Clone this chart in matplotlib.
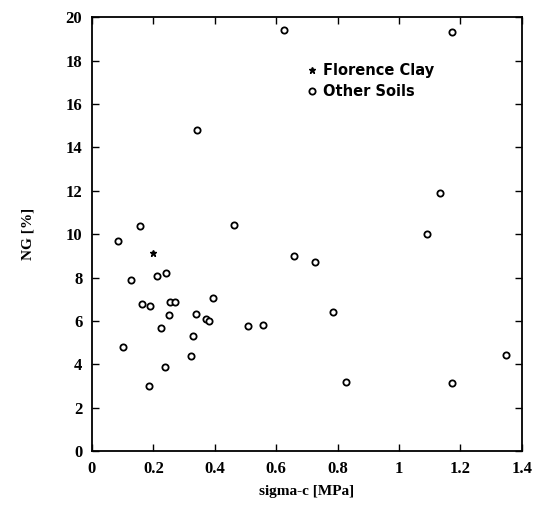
import matplotlib.pyplot as plt

# Florence Clay
fc_sigma = [0.200]
fc_ng = [9.14]

# Other soils
other_sigma = [0.086, 0.127, 0.211, 0.240, 0.162, 0.189, 0.254, 0.271, 0.393,
               0.251, 0.339, 0.370, 0.382, 0.225, 0.329, 0.102, 0.321, 0.238,
               0.187, 0.508, 0.556, 0.659, 0.725, 0.626, 0.341, 0.156, 0.463,
               1.173, 1.134, 1.090, 0.784, 0.826, 1.172, 1.349]
other_ng = [9.69, 7.88, 8.08, 8.19, 6.79, 6.67, 6.88, 6.88, 7.08,
            6.28, 6.30, 6.10, 5.99, 5.68, 5.30, 4.79, 4.39, 3.89,
            2.99, 5.79, 5.81, 9.00, 8.70, 19.39, 14.81, 10.38, 10.40,
            19.31, 11.90, 9.99, 6.41, 3.19, 3.15, 4.42]

xticks = [0, 0.2, 0.4, 0.6, 0.8, 1, 1.2, 1.4]
xticklabels = ["0", "0.2", "0.4", "0.6", "0.8", "1", "1.2", "1.4"]
yticks = list(range(0, 21, 2))

fig = plt.figure(figsize=(5.38, 5.18), dpi=100)
ax = fig.add_axes([0.171, 0.129, 0.799, 0.838])

ax.plot(fc_sigma, fc_ng, linestyle="none", marker="*", markersize=5,
        color="black", label="Florence Clay")
ax.plot(other_sigma, other_ng, linestyle="none", marker="o", markersize=4.5,
        markerfacecolor="white", markeredgecolor="black", markeredgewidth=1.3,
        label="Other Soils")

ax.set_xlim(0, 1.4)
ax.set_ylim(0, 20)
ax.set_xticks(xticks)
ax.set_xticklabels(xticklabels)
ax.set_yticks(yticks)
ax.tick_params(direction="in", top=True, right=True, length=5, width=1,
               labelsize=12, pad=7)
for lbl in ax.get_xticklabels() + ax.get_yticklabels():
    lbl.set_fontfamily("Liberation Serif")
    lbl.set_fontweight("bold")
for s in ax.spines.values():
    s.set_linewidth(1.3)

ax.set_xlabel("sigma-c [MPa]", fontfamily="Liberation Serif", fontweight="bold",
              fontsize=11, labelpad=6)
ax.set_ylabel("NG [%]", fontfamily="Liberation Serif", fontweight="bold",
              fontsize=11, labelpad=22)

ax.legend(loc="upper left", bbox_to_anchor=(0.47, 0.925), frameon=False,
          handlelength=0.6, handletextpad=0.5, labelspacing=0.45,
          prop={"family": "DejaVu Sans", "weight": "bold", "size": 10.5})

fig.savefig("out.png", dpi=100)
